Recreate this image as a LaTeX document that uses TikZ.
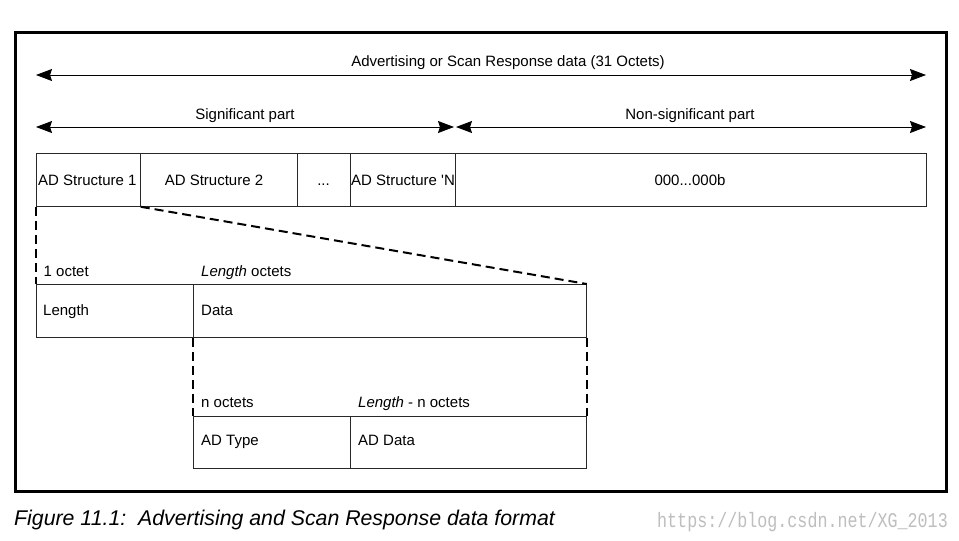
\documentclass[tikz,border=0pt]{standalone}
\usepackage{fontspec}
\usepackage{graphicx}
\setmainfont{Liberation Sans}
\newfontfamily\wmfont{Liberation Mono}
\usetikzlibrary{arrows.meta}
\definecolor{linegray}{RGB}{40,40,40}
\definecolor{wmgray}{RGB}{190,190,190}
\tikzset{
  cell/.style={draw=linegray, line width=0.8pt, inner sep=0pt, anchor=north west},
  txt/.style={inner sep=0pt, anchor=base west, font=\fontsize{15}{17}\selectfont},
  ctxt/.style={inner sep=0pt, anchor=base, font=\fontsize{15}{17}\selectfont},
  dimarrow/.style={draw=black, line width=0.8pt, {Stealth[length=16pt,width=12pt,inset=2pt]}-{Stealth[length=16pt,width=12pt,inset=2pt]}},
  zoomline/.style={draw=black, line width=2pt, dash pattern=on 9pt off 5pt},
  frame/.style={draw=black, line width=3pt}
}
\begin{document}
\begin{tikzpicture}[x=1pt,y=-1pt]
\useasboundingbox (0,0) rectangle (959,541);
\fill[white] (0,0) rectangle (959,541);
\draw[frame] (15.5,32.5) rectangle (946.5,491.5);

% dimension arrows
\coordinate (a1) at (36,75);
\coordinate (a2) at (926,75);
\coordinate (b1) at (36,127);
\coordinate (b2) at (454,127);
\coordinate (c1) at (456,127);
\coordinate (c2) at (926,127);
\draw[dimarrow] (a1) -- (a2);
\draw[dimarrow] (b1) -- (b2);
\draw[dimarrow] (c1) -- (c2);
\node[ctxt] (lall) at (508,66.5) {Advertising or Scan Response data (31 Octets)};
\node[ctxt] (lsig) at (245,119) {Significant part};
\node[ctxt] (lnon) at (690,119) {Non-significant part};

% top row
\node[cell, minimum width=104pt, minimum height=53pt] (s1) at (36,153) {};
\node[cell, minimum width=157pt, minimum height=53pt] (s2) at (140,153) {};
\node[cell, minimum width=53pt, minimum height=53pt] (sd) at (297,153) {};
\node[cell, minimum width=105pt, minimum height=53pt] (sn) at (350,153) {};
\node[cell, minimum width=471pt, minimum height=53pt] (sz) at (455,153) {};
\node[txt] (t1) at (38,185) {AD Structure 1};
\node[ctxt] (t2) at (214,185) {AD Structure 2};
\node[ctxt] (td) at (323.5,185) {...};
\node[txt] (tn) at (351,185) {AD Structure \textquotesingle N};
\node[ctxt] (tz) at (690,185) {000...000b};

% length / data row
\node[cell, minimum width=157pt, minimum height=53pt] (len) at (36,284) {};
\node[cell, minimum width=393pt, minimum height=53pt] (data) at (193,284) {};
\node[txt] (l1) at (43.5,276) {1 octet};
\node[txt] (l2) at (201,276) {\textit{Length} octets};
\node[txt] (tlen) at (43,315.5) {Length};
\node[txt] (tdata) at (201,315.5) {Data};

% AD type / data row
\node[cell, minimum width=157pt, minimum height=52pt] (typ) at (193,416) {};
\node[cell, minimum width=236pt, minimum height=52pt] (add) at (350,416) {};
\node[txt] (l3) at (201,407) {n octets};
\node[txt] (l4) at (358,407) {\textit{Length} - n octets};
\node[txt] (ttyp) at (201,445.5) {AD Type};
\node[txt] (tadd) at (358,445.5) {AD Data};

% zoom lines
\draw[zoomline] (s1.south west) -- (len.north west);
\draw[zoomline] (s1.south east) -- (data.north east);
\draw[zoomline] (data.south west) -- (typ.north west);
\draw[zoomline] (data.south east) -- (add.north east);

% caption
\node[inner sep=0pt, anchor=base west, font=\fontsize{21.3}{24}\selectfont\itshape] (cap) at (14,525.5) {Figure 11.1:\ \ Advertising and Scan Response data format};
\node[inner sep=0pt, anchor=base west, text=wmgray] (wm) at (657,527) {\scalebox{1}[1.25]{\wmfont\fontsize{16.7}{18}\selectfont https://blog.csdn.net/XG\_2013}};
\end{tikzpicture}
\end{document}
